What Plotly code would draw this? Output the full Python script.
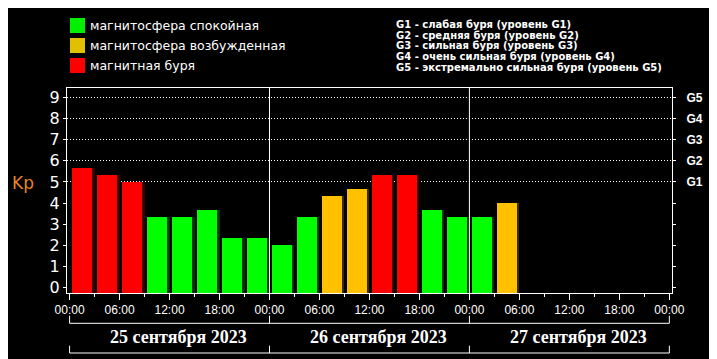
import plotly.graph_objects as go

# ---- data ----
interval_start_h = [0, 3, 6, 9, 12, 15, 18, 21, 24, 27, 30, 33, 36, 39, 42, 45, 48, 51]
kp_values = [5.67, 5.33, 5.0, 3.33, 3.33, 3.67, 2.33, 2.33, 2.0, 3.33,
             4.33, 4.67, 5.33, 5.33, 3.67, 3.33, 3.33, 4.0]
tick_hours = [0, 6, 12, 18, 24, 30, 36, 42, 48, 54, 60, 66, 72]
tick_labels = ["00:00", "06:00", "12:00", "18:00", "00:00", "06:00", "12:00",
               "18:00", "00:00", "06:00", "12:00", "18:00", "00:00"]
day_starts = [0, 24, 48, 72]
day_labels = ["25 сентября 2023", "26 сентября 2023", "27 сентября 2023"]
kp_ticks = [0, 1, 2, 3, 4, 5, 6, 7, 8, 9]
g_ticks = [5, 6, 7, 8, 9]
g_labels = ["G1", "G2", "G3", "G4", "G5"]
legend_labels = ["магнитосфера спокойная", "магнитосфера возбужденная", "магнитная буря"]
g_descriptions = [
    "G1 - слабая буря (уровень G1)",
    "G2 - средняя буря (уровень G2)",
    "G3 - сильная буря (уровень G3)",
    "G4 - очень сильная буря (уровень G4)",
    "G5 - экстремально сильная буря (уровень G5)",
]

# ---- style ----
OFF = 8  # default page body margin of the browser
W, H = 717 - OFF, 359 - OFF
ML, MR, MT, MB = 67 - OFF, 45, 88 - OFF, 66
PW, PH = W - ML - MR, H - MT - MB
Y0, Y1 = -0.25, 9.44
X0, X1 = -0.31, 72.32
GREEN, YELLOW, RED = "#00ff00", "#ffc000", "#ff0000"
SH_GREEN, SH_YELLOW, SH_RED = "#003a00", "#3a2c00", "#3a0000"
LEG_COLORS = ["#00f000", "#e0c000", "#ff0000"]


def px_x(px):
    return (px - OFF - ML) / PW


def px_y(py):
    return (H - MB - (py - OFF)) / PH


def level_color(v):
    if v < 4:
        return GREEN
    if v < 5:
        return YELLOW
    return RED


def shadow_color(v):
    if v < 4:
        return SH_GREEN
    if v < 5:
        return SH_YELLOW
    return SH_RED


bar_len = [v - Y0 for v in kp_values]

fig = go.Figure()
fig.add_trace(go.Bar(x=interval_start_h, y=bar_len, base=Y0, width=2.4, offset=0.6,
                     marker=dict(color=[shadow_color(v) for v in kp_values], line=dict(width=0)),
                     showlegend=False, hoverinfo="skip"))
fig.add_trace(go.Bar(x=interval_start_h, y=bar_len, base=Y0, width=2.4, offset=0.3,
                     marker=dict(color=[level_color(v) for v in kp_values], line=dict(width=0)),
                     showlegend=False, hoverinfo="skip"))
# invisible traces to activate overlay axes
fig.add_trace(go.Scatter(x=[X0], y=[Y0], yaxis="y2", mode="markers", opacity=0,
                         showlegend=False, hoverinfo="skip"))
fig.add_trace(go.Scatter(x=[X0], y=[Y0], yaxis="y3", mode="markers", opacity=0,
                         showlegend=False, hoverinfo="skip"))

fig.update_layout(
    width=W, height=H, autosize=False,
    margin=dict(l=ML, r=MR, t=MT, b=MB, pad=0, autoexpand=False),
    paper_bgcolor="black", plot_bgcolor="black",
    barmode="overlay", bargap=0,
    xaxis=dict(range=[X0, X1], tickvals=tick_hours, ticktext=tick_labels, automargin=False,
               ticks="outside", ticklen=6, tickcolor="white", tickwidth=1,
               minor=dict(dtick=3, tick0=0, ticks="outside", ticklen=3, tickcolor="white"),
               showline=True, mirror=True, linecolor="white", linewidth=1,
               showgrid=False, zeroline=False, fixedrange=True,
               tickfont=dict(family="Liberation Sans", size=12, color="white")),
    yaxis=dict(range=[Y0, Y1], tickvals=kp_ticks, ticks="outside", ticklen=3, automargin=False,
               tickcolor="white", showline=True, mirror=True, linecolor="white", linewidth=1,
               showgrid=False, zeroline=False,
               tickfont=dict(family="DejaVu Sans", size=16, color="white")),
    yaxis2=dict(range=[Y0, Y1], overlaying="y", side="right", tickvals=kp_ticks, automargin=False,
                ticktext=["" for _ in kp_ticks[:5]] + g_labels,
                ticks="outside", ticklen=3, tickcolor="white", showgrid=False,
                zeroline=False, showline=False, ticklabelstandoff=8,
                tickfont=dict(family="Liberation Sans", size=12, color="white", weight="bold")),
    yaxis3=dict(range=[Y0, Y1], overlaying="y", tickvals=g_ticks, showticklabels=False,
                automargin=False,
                ticks="", showgrid=True, gridcolor="white", gridwidth=1, griddash="1px,2px",
                zeroline=False, showline=False),
)

shapes = []
# day separators
for d in day_starts[1:-1]:
    shapes.append(dict(type="line", xref="x", yref="paper", x0=d, x1=d, y0=0, y1=1,
                       line=dict(color="white", width=1), layer="above"))
# brackets under axis
for y_line, y_tick in [(323.3, 315.7), (353.0, 345.7)]:
    shapes.append(dict(type="line", xref="x", yref="paper", x0=day_starts[0], x1=day_starts[-1],
                       y0=px_y(y_line), y1=px_y(y_line), line=dict(color="white", width=1)))
    for d in day_starts:
        shapes.append(dict(type="line", xref="x", yref="paper", x0=d, x1=d,
                           y0=px_y(y_line), y1=px_y(y_tick), line=dict(color="white", width=1)))
# legend swatches
for i, c in enumerate(LEG_COLORS):
    top = 18 + 20 * i
    shapes.append(dict(type="rect", xref="paper", yref="paper", x0=px_x(70), x1=px_x(85),
                       y0=px_y(top + 15), y1=px_y(top), fillcolor=c, line=dict(width=0)))
fig.update_layout(shapes=shapes)

ann = []
ann.append(dict(text="Kp", xref="paper", yref="paper", x=px_x(22.5), y=px_y(183),
                xanchor="center", yanchor="middle", showarrow=False,
                font=dict(family="DejaVu Sans", size=17, color="#e8842c")))
for i, t in enumerate(legend_labels):
    ann.append(dict(text=t, xref="paper", yref="paper", x=px_x(88), y=px_y(25.5 + 20 * i),
                    xanchor="left", yanchor="middle", showarrow=False,
                    font=dict(family="DejaVu Sans", size=12.5, color="white")))
for i, t in enumerate(g_descriptions):
    ann.append(dict(text=t, xref="paper", yref="paper", x=px_x(394), y=px_y(24.7 + 10.6 * i),
                    xanchor="left", yanchor="middle", showarrow=False,
                    font=dict(family="DejaVu Sans", size=10, color="white", weight="bold")))
for i, t in enumerate(day_labels):
    ann.append(dict(text=t, xref="x", yref="paper", x=(day_starts[i] + day_starts[i + 1]) / 2,
                    xshift=9, y=px_y(336.7), xanchor="center", yanchor="middle",
                    showarrow=False,
                    font=dict(family="Liberation Serif", size=18, color="white", weight="bold")))
fig.update_layout(annotations=ann)

fig.write_html("out.html")
